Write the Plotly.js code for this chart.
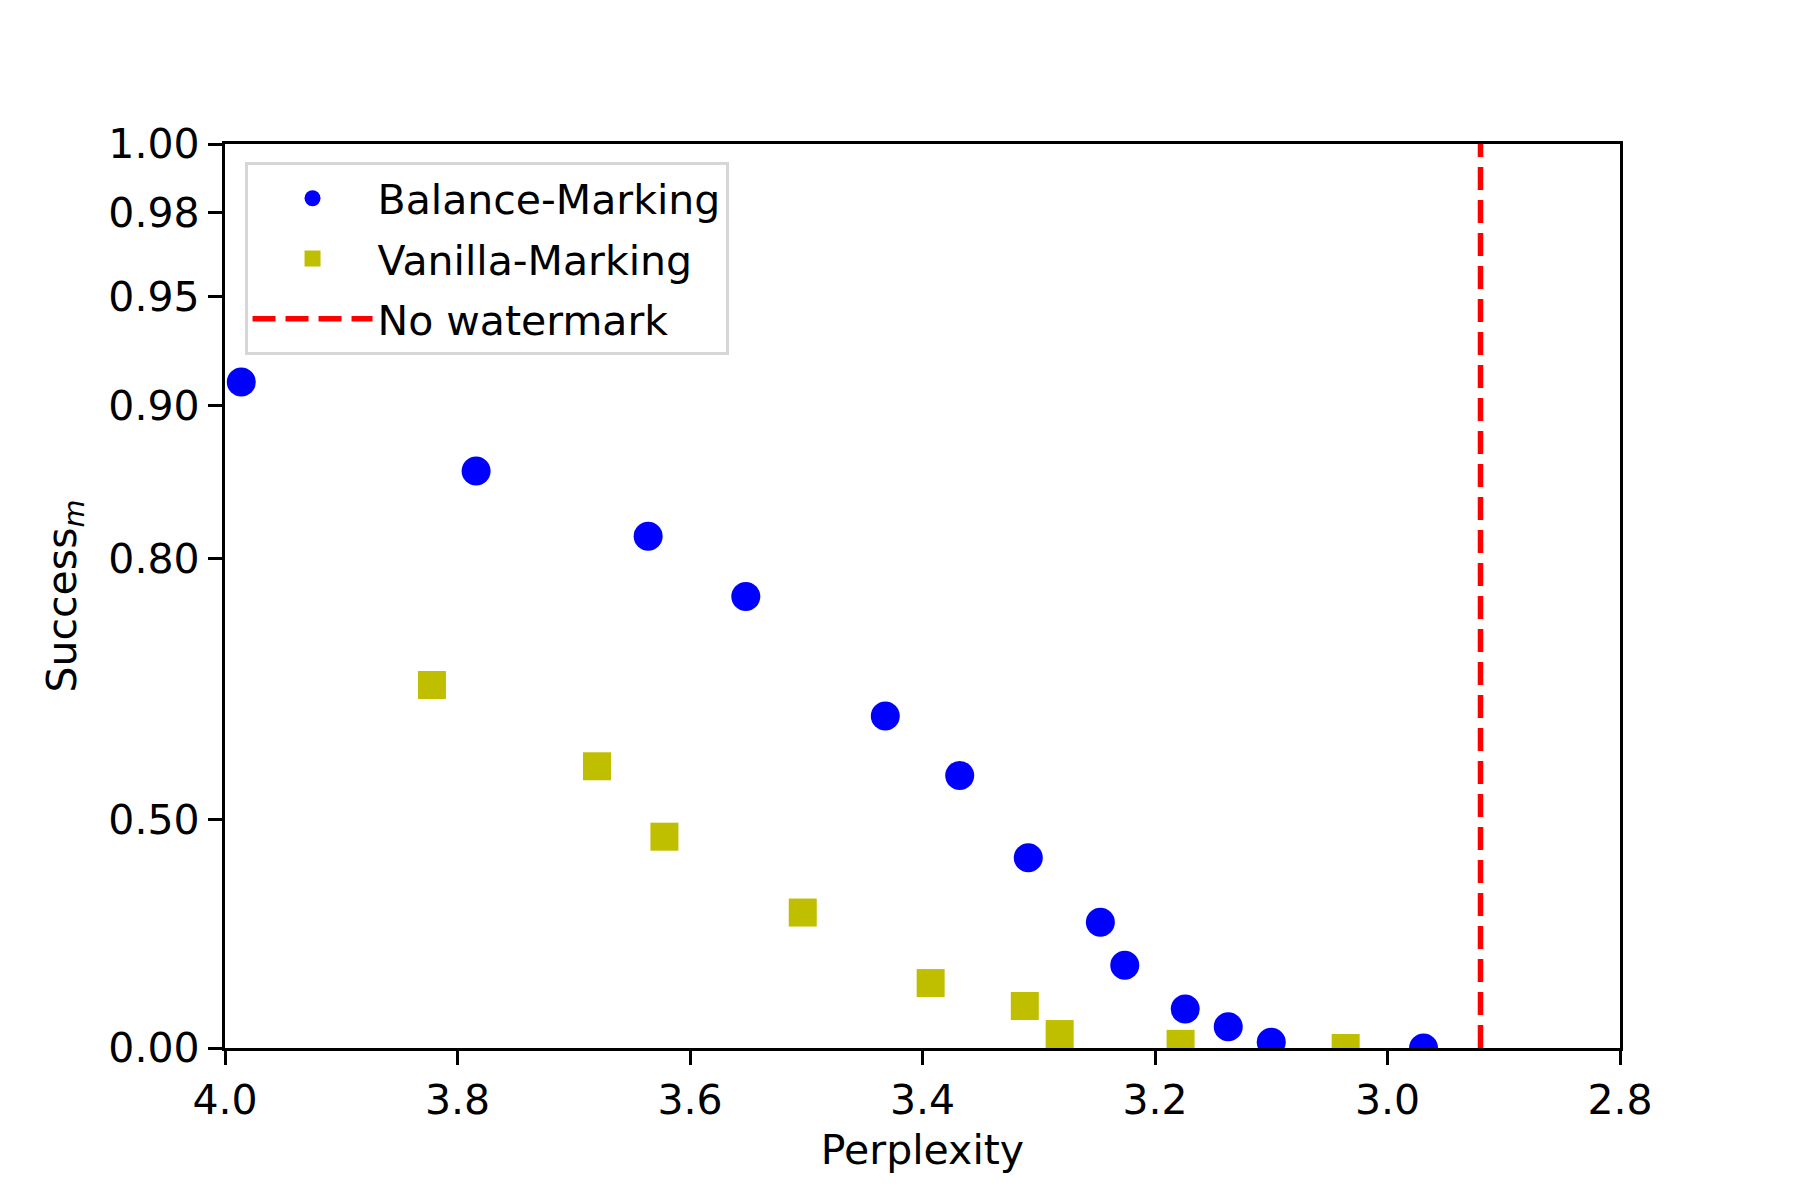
<!DOCTYPE html>
<html>
<head>
<meta charset="utf-8">
<script src="https://cdn.plot.ly/plotly-3.0.1.min.js"></script>
<style>
  html, body { margin: 0; padding: 0; background: #fff; }
  #chart { width: 1800px; height: 1200px; }
</style>
</head>
<body>
<div id="chart"></div>
<script>
// values
var balancePpl = [3.986, 3.784, 3.636, 3.552, 3.432, 3.368, 3.309, 3.247, 3.226, 3.174, 3.137, 3.100, 2.969];
var balanceSucc = [0.912, 0.862, 0.817, 0.768, 0.644, 0.566, 0.436, 0.312, 0.217, 0.108, 0.060, 0.017, 0.0];

var vanillaPpl = [3.822, 3.680, 3.622, 3.503, 3.393, 3.312, 3.282, 3.178, 3.036];
var vanillaSucc = [0.680, 0.579, 0.472, 0.332, 0.174, 0.116, 0.040, 0.012, 0.0];

var noWatermarkPpl = 2.92;

var xTicks = [4.0, 3.8, 3.6, 3.4, 3.2, 3.0, 2.8];
var yTicks = [0.00, 0.50, 0.80, 0.90, 0.95, 0.98, 1.00];
var yTickLabels = ['0.00', '0.50', '0.80', '0.90', '0.95', '0.98', '1.00'];

// the y axis is stretched towards 1: t = -ln(1.1 - y)
function ty(v) { return -Math.log(1.1 - v); }

var font = 'DejaVu Sans, Liberation Sans, sans-serif';

var trace1 = {
  x: balancePpl,
  y: balanceSucc.map(ty),
  mode: 'markers',
  name: 'Balance-Marking',
  legendgroup: 'a',
  marker: { color: '#0000ff', size: 29, symbol: 'circle' }
};

var trace2 = {
  x: vanillaPpl,
  y: vanillaSucc.map(ty),
  mode: 'markers',
  name: 'Vanilla-Marking',
  legendgroup: 'b',
  marker: { color: '#bfbf00', size: 28, symbol: 'square' }
};

var trace3 = {
  x: [noWatermarkPpl, noWatermarkPpl],
  y: [ty(0), ty(1)],
  mode: 'lines',
  name: 'No watermark',
  legendgroup: 'c',
  line: { color: '#ff0000', width: 5.5, dash: '23px,10px' }
};

var layout = {
  width: 1800,
  height: 1200,
  margin: { l: 225, r: 180, t: 144, b: 152 },
  paper_bgcolor: '#ffffff',
  plot_bgcolor: '#ffffff',
  font: { family: font, size: 41, color: '#000' },
  showlegend: true,
  legend: {
    x: 0.014, y: 0.98, xanchor: 'left', yanchor: 'top',
    bgcolor: 'rgba(255,255,255,0.8)',
    bordercolor: '#d6d6d6',
    borderwidth: 3,
    font: { family: font, size: 41 },
    itemsizing: 'trace',
    itemwidth: 120,
    tracegroupgap: 4
  },
  xaxis: {
    range: [4.0, 2.8],
    autorange: false,
    tickvals: xTicks,
    ticktext: xTicks.map(function (v) { return v.toFixed(1); }),
    ticks: 'outside',
    ticklen: 14,
    tickwidth: 3.3,
    tickcolor: '#000',
    showline: true,
    linewidth: 3.3,
    linecolor: '#000',
    mirror: true,
    showgrid: false,
    zeroline: false,
    title: { text: 'Perplexity', font: { family: font, size: 41 }, standoff: 12 }
  },
  yaxis: {
    range: [ty(0), ty(1)],
    autorange: false,
    tickvals: yTicks.map(ty),
    ticktext: yTickLabels,
    ticks: 'outside',
    ticklen: 14,
    tickwidth: 3.3,
    tickcolor: '#000',
    showline: true,
    linewidth: 3.3,
    linecolor: '#000',
    mirror: true,
    showgrid: false,
    zeroline: false,
    title: { text: 'Success<sub><i>m</i></sub>', font: { family: font, size: 41 }, standoff: 20 }
  }
};

Plotly.newPlot('chart', [trace1, trace2, trace3], layout, { displayModeBar: false });
</script>
</body>
</html>
